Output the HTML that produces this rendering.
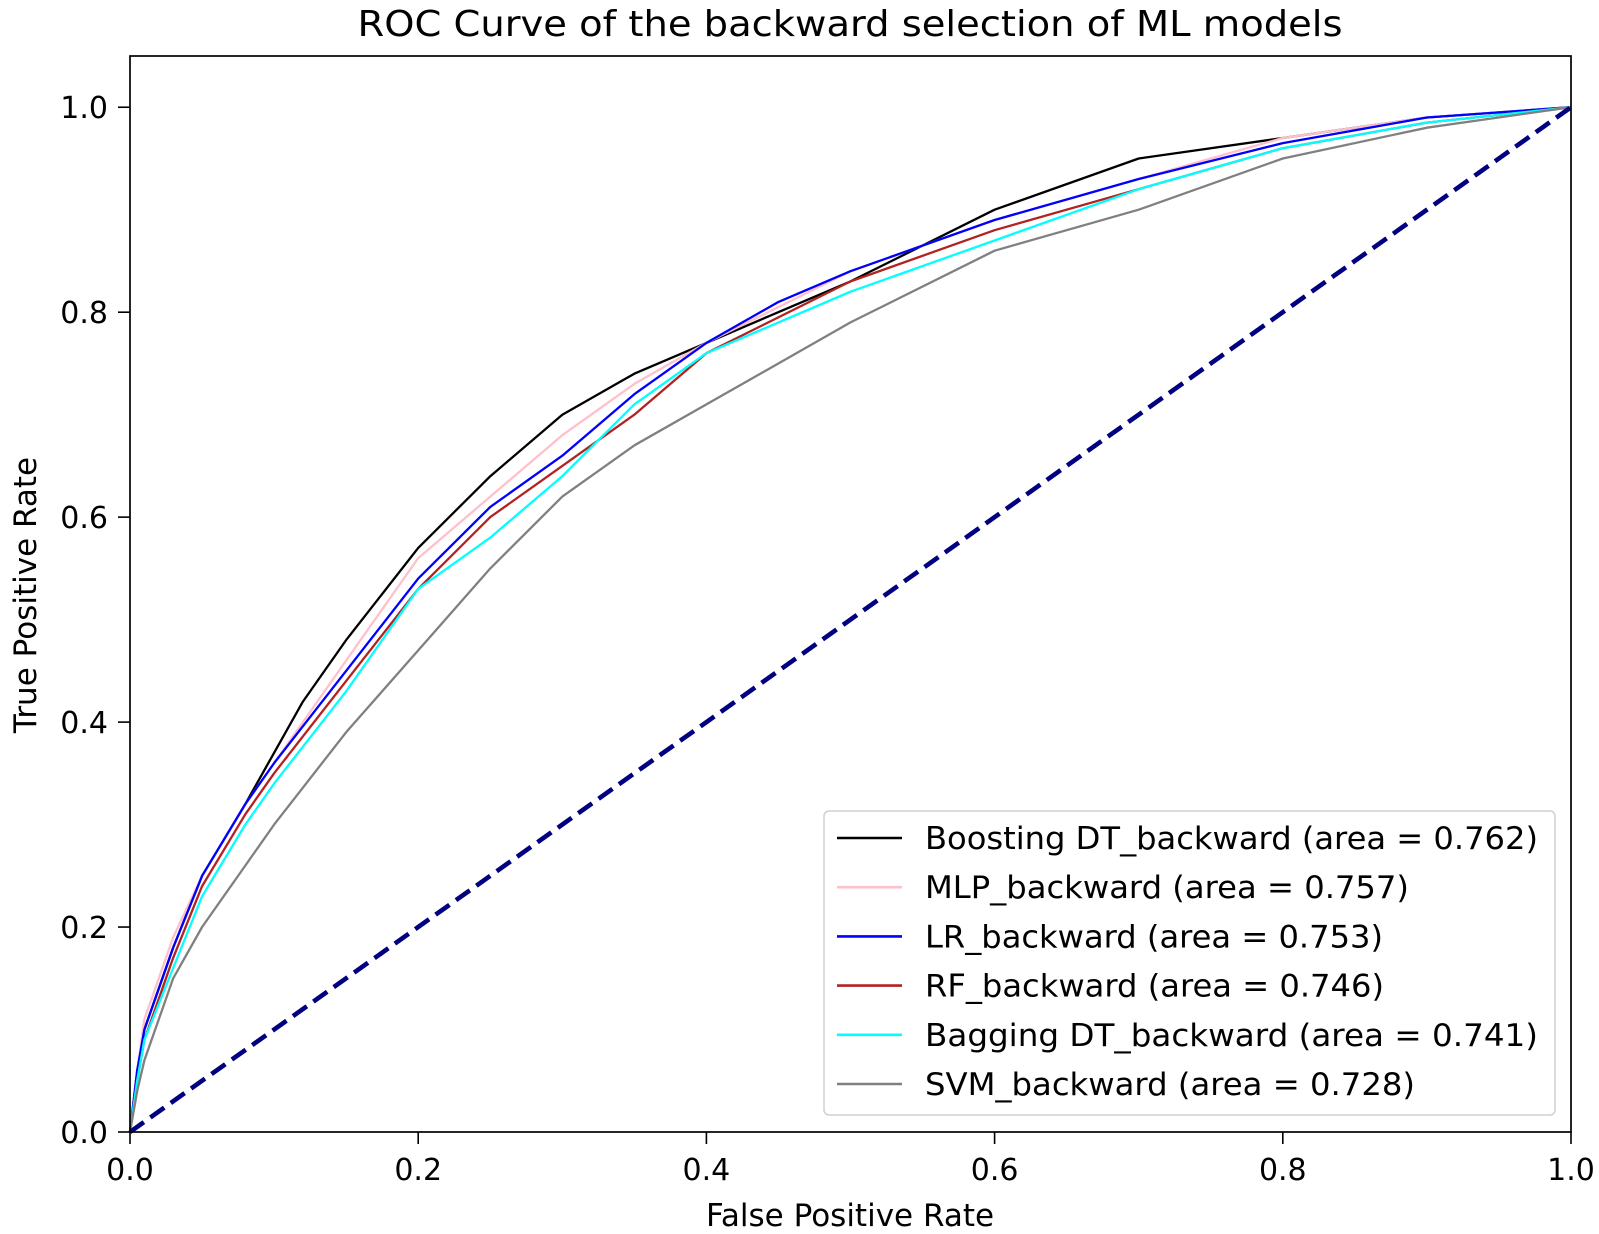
<!DOCTYPE html>
<html><head><meta charset="utf-8">
<style>
html,body{margin:0;padding:0;background:#fff;}
svg{display:block;font-family:"DejaVu Sans","Liberation Sans",sans-serif;}
</style></head>
<body>
<svg id="chart" width="1599" height="1234" viewBox="0 0 1599 1234" xmlns="http://www.w3.org/2000/svg">
<text x="850" y="36" font-size="36" text-anchor="middle" fill="#000" textLength="985" lengthAdjust="spacingAndGlyphs">ROC Curve of the backward selection of ML models</text>
<g id="plot"></g>
</svg>
<script>
const xTicks=[0,0.2,0.4,0.6,0.8,1.0];
const yTicks=[0,0.2,0.4,0.6,0.8,1.0];
const tickLabels=["0.0","0.2","0.4","0.6","0.8","1.0"];
const seriesNames=["Boosting DT_backward (area = 0.762)","MLP_backward (area = 0.757)","LR_backward (area = 0.753)","RF_backward (area = 0.746)","Bagging DT_backward (area = 0.741)","SVM_backward (area = 0.728)"];
const seriesColors=["#000000","#ffc0cb","#0000ff","#b22222","#00ffff","#808080"];
const fprBoost=[0,0.005,0.01,0.03,0.05,0.08,0.1,0.12,0.15,0.2,0.25,0.3,0.35,0.4,0.5,0.6,0.7,0.8,0.9,1];
const tprBoost=[0,0.06,0.1,0.18,0.25,0.32,0.37,0.42,0.48,0.57,0.64,0.70,0.74,0.77,0.83,0.90,0.95,0.97,0.99,1];
const fprMlp=[0,0.005,0.01,0.03,0.05,0.08,0.1,0.15,0.2,0.25,0.3,0.35,0.4,0.5,0.6,0.7,0.8,0.9,1];
const tprMlp=[0,0.06,0.11,0.19,0.25,0.32,0.36,0.46,0.56,0.62,0.68,0.73,0.77,0.84,0.89,0.93,0.97,0.99,1];
const fprLr=[0,0.005,0.01,0.03,0.05,0.08,0.1,0.15,0.2,0.25,0.3,0.35,0.4,0.45,0.5,0.6,0.7,0.8,0.9,1];
const tprLr=[0,0.06,0.1,0.18,0.25,0.32,0.36,0.45,0.54,0.61,0.66,0.72,0.77,0.81,0.84,0.89,0.93,0.965,0.99,1];
const fprRf=[0,0.005,0.01,0.03,0.05,0.08,0.1,0.15,0.2,0.25,0.3,0.35,0.4,0.5,0.6,0.7,0.8,0.9,1];
const tprRf=[0,0.05,0.09,0.17,0.24,0.31,0.35,0.44,0.53,0.60,0.65,0.70,0.76,0.83,0.88,0.92,0.96,0.985,1];
const fprBag=[0,0.005,0.01,0.03,0.05,0.08,0.1,0.15,0.2,0.25,0.3,0.35,0.4,0.5,0.6,0.7,0.8,0.9,1];
const tprBag=[0,0.05,0.09,0.16,0.23,0.30,0.34,0.43,0.53,0.58,0.64,0.71,0.76,0.82,0.87,0.92,0.96,0.985,1];
const fprSvm=[0,0.005,0.01,0.03,0.05,0.08,0.1,0.15,0.2,0.25,0.3,0.35,0.4,0.5,0.6,0.7,0.8,0.9,1];
const tprSvm=[0,0.04,0.07,0.15,0.20,0.26,0.30,0.39,0.47,0.55,0.62,0.67,0.71,0.79,0.86,0.90,0.95,0.98,1];
const seriesFpr=[fprBoost,fprMlp,fprLr,fprRf,fprBag,fprSvm];
const seriesTpr=[tprBoost,tprMlp,tprLr,tprRf,tprBag,tprSvm];
const diagX=[0,1];
const diagY=[0,1];

const NS="http://www.w3.org/2000/svg";
const L=130,R=1571,B=1132,T=56;
const sx=v=>L+v*(R-L);
const sy=v=>B-v/1.05*(B-T);
const g=document.getElementById('plot');
function mk(tag,attrs,parent){const e=document.createElementNS(NS,tag);for(const k in attrs)e.setAttribute(k,attrs[k]);(parent||g).appendChild(e);return e;}

seriesFpr.forEach((xs,i)=>{
  const d=xs.map((x,j)=>(j?'L':'M')+sx(x).toFixed(1)+' '+sy(seriesTpr[i][j]).toFixed(1)).join(' ');
  const p=mk('path',{d:d,fill:'none',stroke:seriesColors[i],'stroke-width':2.3,'stroke-linejoin':'round'});
  
  
});
const dg=mk('line',{x1:sx(diagX[0]),y1:sy(diagY[0]),x2:sx(diagX[1]),y2:sy(diagY[1]),stroke:'#000080','stroke-width':4.6,'stroke-dasharray':'17,8'});


const fr=mk('rect',{x:L,y:T,width:R-L,height:B-T,fill:'none',stroke:'#000','stroke-width':1.7});


xTicks.forEach((v,i)=>{
  mk('line',{x1:sx(v),y1:B,x2:sx(v),y2:B+12,stroke:'#000','stroke-width':1.6});
  const t=mk('text',{x:sx(v),y:B+48,'font-size':30,'text-anchor':'middle',fill:'#000'});
  t.textContent=tickLabels[i];
  
  
});
yTicks.forEach((v,i)=>{
  mk('line',{x1:L-12,y1:sy(v),x2:L,y2:sy(v),stroke:'#000','stroke-width':1.6});
  const t=mk('text',{x:L-22,y:sy(v)+11,'font-size':30,'text-anchor':'end',fill:'#000'});
  t.textContent=tickLabels[i];
  
  
});
const xl=mk('text',{x:850,y:1226,'font-size':31,'text-anchor':'middle',fill:'#000'});
xl.textContent='False Positive Rate';


const yl=mk('text',{x:0,y:0,'font-size':31,'text-anchor':'middle',fill:'#000',transform:'translate(36,595) rotate(-90)'});
yl.textContent='True Positive Rate';


const lg=mk('g',{});


mk('rect',{x:824,y:811,width:731,height:304,rx:5,fill:'#fff','fill-opacity':0.85,stroke:'#d0d0d0','stroke-width':1.5},lg);
const widths=[613,484,458,459,613,490];
seriesNames.forEach((n,i)=>{
  const y=838+i*49.2;
  const ln=mk('line',{x1:837,y1:y,x2:902,y2:y,stroke:seriesColors[i],'stroke-width':2.6},lg);
  
  
  const t=mk('text',{x:925,y:y+11,'font-size':31,fill:'#000',textLength:widths[i],lengthAdjust:'spacingAndGlyphs'},lg);
  t.textContent=n;
  
  
});
</script>
</body></html>
